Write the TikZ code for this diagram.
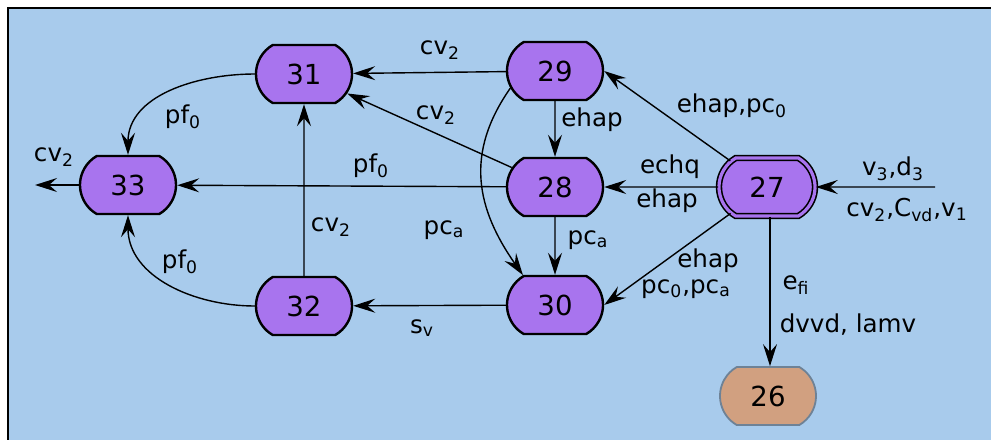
\documentclass[tikz,border=0pt]{standalone}
\usepackage{fontspec}
\setmainfont{DejaVu Sans}
\usetikzlibrary{shapes.misc,arrows.meta}
\definecolor{bgblue}{HTML}{A8CBEC}
\definecolor{statepurple}{HTML}{A874EE}
\definecolor{finaltan}{HTML}{D1A080}
\definecolor{tanedge}{HTML}{6E8296}
\tikzset{
  state/.style={rounded rectangle, rounded rectangle arc length=120,
    draw=black, line width=1.2pt, fill=statepurple,
    minimum width=48pt, minimum height=29pt, inner sep=0pt,
    font=\fontsize{13.8}{16}\selectfont},
  initstate/.style={state, double=statepurple, double distance=1.6pt, line width=0.8pt},
  endstate/.style={state, fill=finaltan, draw=tanedge, line width=0.9pt},
  lbl/.style={inner sep=0pt}
}
\begin{document}
\begin{tikzpicture}[x=0.5pt, y=-0.5pt, >={Stealth[length=11pt,width=7pt,inset=4pt]},
  line width=0.7pt, font=\fontsize{12.3}{15}\selectfont]
  \useasboundingbox (0,0) rectangle (991,440);
  % frame
  \fill[bgblue] (8,8) rectangle (991,440);
  \draw[line width=1.2pt] (991,8) -- (8,8) -- (8,440);

  % states
  \node[state] (n31) at (304,74) {31};
  \node[state] (n29) at (555,71) {29};
  \node[state] (n33) at (128,185) {33};
  \node[state] (n28) at (555,187) {28};
  \node[initstate] (n27) at (767,187) {27};
  \node[state] (n32) at (304,306) {32};
  \node[state] (n30) at (555,305) {30};
  \node[endstate] (n26) at (768,396) {26};
  \coordinate (out33) at (35,185);
  \coordinate (in27) at (935,187);

  % transitions
  \draw[->] (n29) -- (n31);
  \draw[->] (n28) -- (n31);
  \draw[->] (n28) -- (n33);
  \draw[->] (n31.west) to[out=180,in=90] (n33.north);
  \draw[->] (n32.west) to[out=180,in=-90] (n33.south);
  \draw[->] (n32) -- (n31);
  \draw[->] (n30) -- (n32);
  \draw[->] (n33) -- (out33);
  \draw[->] (n29) -- (n28);
  \draw[->] (n28) -- (n30);
  \draw[->] (n29.201) to[out=235,in=125,looseness=1.1] (n30.137);
  \draw[->] (n27) -- (n29.east);
  \draw[->] (n27) -- (n28);
  \draw[->] (n27) -- (n30.east);
  \draw[->] (in27) -- (n27);
  \draw[->] (n27.south -| 770,0) -- (n26.north -| 770,0);

  % labels
  \node[lbl] (l2931) at (440,50) {cv\textsubscript{2}};
  \node[lbl] (l2831) at (436,115) {cv\textsubscript{2}};
  \node[lbl] (l2833) at (371,166) {pf\textsubscript{0}};
  \node[lbl] (l3133) at (183,117) {pf\textsubscript{0}};
  \node[lbl] (l3233) at (180,262) {pf\textsubscript{0}};
  \node[lbl] (lout) at (54,157) {cv\textsubscript{2}};
  \node[lbl] (l3231) at (331,227) {cv\textsubscript{2}};
  \node[lbl] (l3032) at (422,328) {s\textsubscript{v}};
  \node[lbl] (l2930) at (444,230) {pc\textsubscript{a}};
  \node[lbl] (l2928) at (592,120) {ehap};
  \node[lbl] (l2830) at (588,240) {pc\textsubscript{a}};
  \node[lbl] (l2729) at (732,106) {ehap,pc\textsubscript{0}};
  \node[lbl] (l2728a) at (670,167) {echq};
  \node[lbl] (l2728b) at (667,201) {ehap};
  \node[lbl] (l2730a) at (708,261) {ehap};
  \node[lbl] (l2730b) at (686,289) {pc\textsubscript{0},pc\textsubscript{a}};
  \node[lbl] (lin1) at (893,169) {v\textsubscript{3},d\textsubscript{3}};
  \node[lbl] (lin2) at (907,210) {cv\textsubscript{2},C\textsubscript{vd},v\textsubscript{1}};
  \node[lbl] (l2726a) at (796,285) {e\textsubscript{fi}};
  \node[lbl] (l2726b) at (848,325) {dvvd, lamv};
\end{tikzpicture}
\end{document}
